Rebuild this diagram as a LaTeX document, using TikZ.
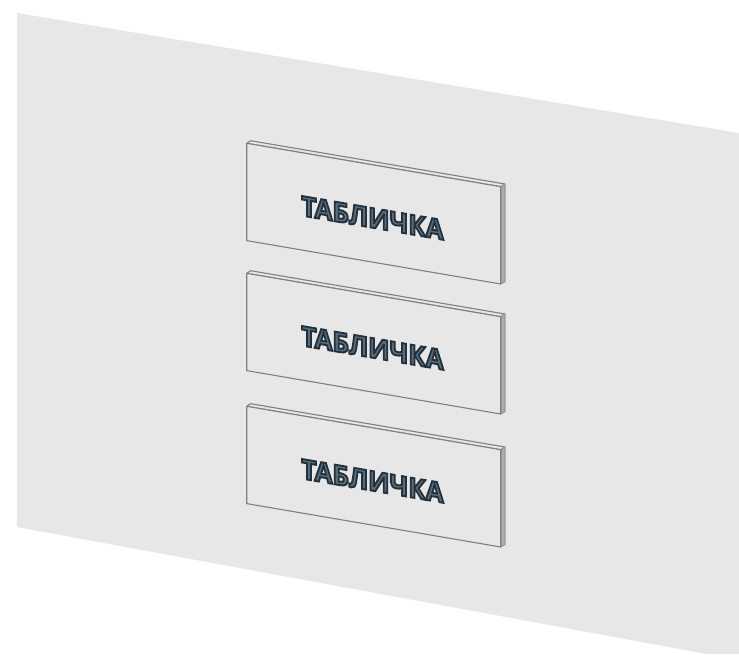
\documentclass[tikz,border=0pt]{standalone}
\usepackage{fontspec}
\setmainfont{Open Sans}
\definecolor{wallgrey}{HTML}{E7E7E7}
\definecolor{edgegrey}{HTML}{808080}
\definecolor{sidegrey}{HTML}{ABABAB}
\definecolor{lettergrey}{HTML}{566E7D}
\tikzset{
  wall/.style={fill=wallgrey,draw=none},
  plateface/.style={draw=edgegrey,fill=wallgrey,line width=1.1pt,line join=round},
  plateside/.style={draw=sidegrey!90!black,fill=sidegrey,line width=1.1pt,line join=round},
  platelabel/.style={inner sep=0pt,yslant=-0.171,xscale=0.94,transform shape,
    font=\fontsize{27.5}{27.5}\selectfont\bfseries,text=lettergrey},
}
\newcommand{\outlined}[1]{\special{pdf:code 2 Tr 1.9 w 0.14 0.19 0.23 RG}#1}
\begin{document}
\begin{tikzpicture}[x=1pt,y=-1pt]
    \useasboundingbox (0,0) rectangle (739,654);
    \fill[white] (0,0) rectangle (739,654);
    \draw[wall] (17,13) -- (739,133) -- (739,654) -- (707,654) -- (17,527) -- cycle;
    % top plate
    \draw[plateface] (250.7,140.7) -- (505,184) -- (500.7,186.7) -- (246.7,143.3) -- cycle;
    \draw[plateside] (500.7,186.7) -- (505,184) -- (505,281.7) -- (500.7,284) -- cycle;
    \draw[plateface] (246.7,143.3) -- (500.7,186.7) -- (500.7,284) -- (246.7,240.6) -- cycle;
    \node[platelabel] (labelA) at (372.5,218) {\outlined{ТАБЛИЧКА}};
    % middle plate
    \draw[plateface] (250.7,270.7) -- (505,314) -- (500.7,316.7) -- (246.7,273.3) -- cycle;
    \draw[plateside] (500.7,316.7) -- (505,314) -- (505,411.7) -- (500.7,414) -- cycle;
    \draw[plateface] (246.7,273.3) -- (500.7,316.7) -- (500.7,414) -- (246.7,370.6) -- cycle;
    \node[platelabel] (labelB) at (372.5,348) {\outlined{ТАБЛИЧКА}};
    % bottom plate
    \draw[plateface] (250.7,403.7) -- (505,447) -- (500.7,449.7) -- (246.7,406.3) -- cycle;
    \draw[plateside] (500.7,449.7) -- (505,447) -- (505,544.7) -- (500.7,547) -- cycle;
    \draw[plateface] (246.7,406.3) -- (500.7,449.7) -- (500.7,547) -- (246.7,503.6) -- cycle;
    \node[platelabel] (labelC) at (372.5,481) {\outlined{ТАБЛИЧКА}};
\end{tikzpicture}
\end{document}
